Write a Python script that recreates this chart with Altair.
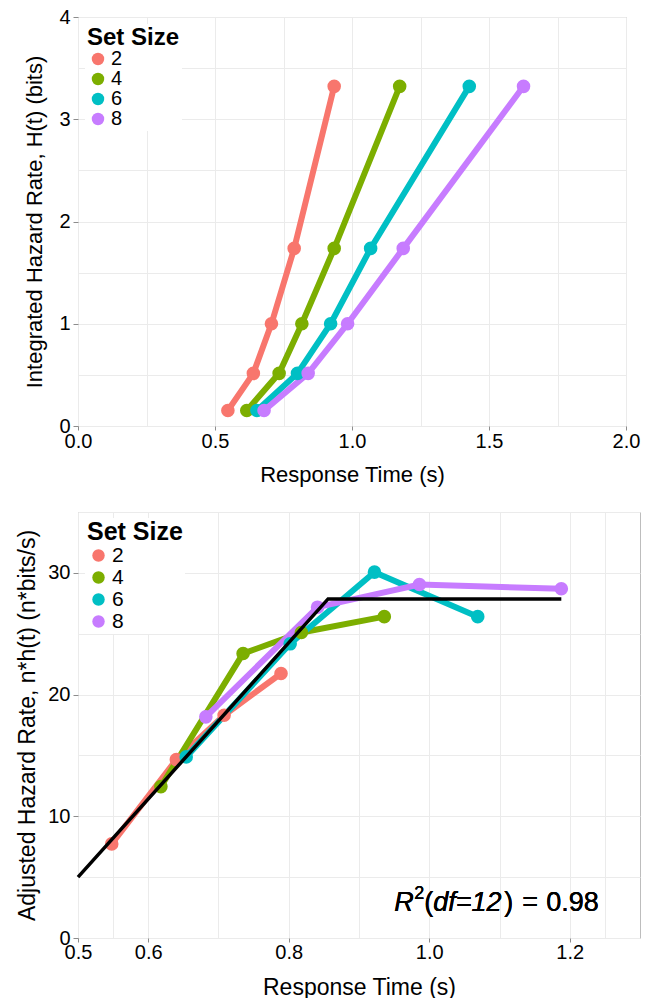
import altair as alt
import pandas as pd

FONT = "Liberation Sans"

set_sizes = ["2", "4", "6", "8"]
colors = ["#F8766D", "#7CAE00", "#00BFC4", "#C77CFF"]

# ---- Top panel: integrated hazard rate (bits) at five RT quantiles ----
H_bits = [0.152, 0.515, 1.0, 1.737, 3.322]
rt_ss2 = [0.547, 0.640, 0.706, 0.789, 0.935]
rt_ss4 = [0.616, 0.734, 0.817, 0.935, 1.174]
rt_ss6 = [0.653, 0.801, 0.922, 1.068, 1.428]
rt_ss8 = [0.679, 0.840, 0.984, 1.187, 1.626]

# ---- Bottom panel: adjusted hazard rate n*h(t) ----
adj_x_ss2 = [0.548, 0.640, 0.708, 0.789]
adj_x_ss4 = [0.618, 0.735, 0.818, 0.936]
adj_x_ss6 = [0.654, 0.802, 0.922, 1.069]
adj_x_ss8 = [0.682, 0.841, 0.986, 1.188]
adj_y_ss2 = [7.73, 14.66, 18.30, 21.73]
adj_y_ss4 = [12.44, 23.37, 25.10, 26.40]
adj_y_ss6 = [14.88, 24.17, 30.06, 26.40]
adj_y_ss8 = [18.17, 27.18, 29.04, 28.69]

# piecewise-linear fit (black line)
fit_x = [0.5, 0.856, 1.188]
fit_y = [5.0, 27.86, 27.86]

# axis tick values (major = labelled, minor = grid only)
top_x_major = [0.0, 0.5, 1.0, 1.5, 2.0]
top_x_minor = [0.25, 0.75, 1.25, 1.75]
top_y_major = [0, 1, 2, 3, 4]
top_y_minor = [0.5, 1.5, 2.5, 3.5]
bot_x_major = [0.5, 0.6, 0.8, 1.0, 1.2]
bot_x_minor = [0.55, 0.7, 0.9, 1.1, 1.25]
bot_y_major = [0, 10, 20, 30]
bot_y_minor = [5, 15, 25, 35]

top_rows = []
for s, xs in zip(set_sizes, [rt_ss2, rt_ss4, rt_ss6, rt_ss8]):
    for i, (xv, yv) in enumerate(zip(xs, H_bits)):
        top_rows.append({"ss": s, "ssn": int(s), "idx": i, "rt": xv, "H": yv})
top_df = pd.DataFrame(top_rows)

bot_rows = []
for s, xs, ys in zip(set_sizes,
                     [adj_x_ss2, adj_x_ss4, adj_x_ss6, adj_x_ss8],
                     [adj_y_ss2, adj_y_ss4, adj_y_ss6, adj_y_ss8]):
    for i, (xv, yv) in enumerate(zip(xs, ys)):
        bot_rows.append({"ss": s, "ssn": int(s), "idx": i, "rt": xv, "nh": yv})
bot_df = pd.DataFrame(bot_rows)

fit_df = pd.DataFrame({"rt": fit_x, "nh": fit_y, "idx": list(range(len(fit_x)))})


def make_axis(title, major, minor, fmt, label_size, title_size, title_pad, tick=5, lpad=3):
    vals = sorted(major + minor)
    major_str = "[" + ",".join(repr(float(v)) for v in major) + "]"
    test = f"indexof({major_str}, datum.value) >= 0"
    return alt.Axis(
        title=title,
        values=vals,
        labelExpr=f"{test} ? format(datum.value, '{fmt}') : ''",
        tickOpacity=alt.condition(test, alt.value(1), alt.value(0)),
        grid=True,
        gridColor="#ebebeb",
        gridWidth=1,
        domain=False,
        ticks=True,
        tickSize=tick,
        tickColor="#8c8c8c",
        labelPadding=lpad,
        labelFontSize=label_size,
        titleFontSize=title_size,
        titlePadding=title_pad,
        labelFlush=False,
        labelOverlap=False,
        labelColor="black",
        titleColor="black",
        titleFontWeight="normal",
        labelFont=FONT,
        titleFont=FONT,
    )


def make_legend(title_size, label_size, lx, ly, tpad):
    return alt.Legend(
        title="Set Size", orient="none", legendX=lx, legendY=ly,
        titleFontSize=title_size, titleFontWeight="bold", titleColor="black", titleFont=FONT,
        labelFont=FONT, labelFontSize=label_size, labelColor="black",
        symbolType="circle", symbolSize=155, symbolStrokeWidth=0, symbolOpacity=1,
        rowPadding=0, titlePadding=tpad, symbolOffset=1, labelOffset=3,
        fillColor="white", padding=2,
    )


def series_layers(df, xenc, yenc, legend):
    # lines: stroke keyed on the numeric set size (separate scale, no legend)
    lines = alt.Chart(df).mark_line(strokeWidth=6).encode(
        x=xenc, y=yenc, order="idx:Q",
        stroke=alt.Stroke("ssn:O", scale=alt.Scale(domain=[int(s) for s in set_sizes], range=colors),
                          legend=None),
    )
    points = alt.Chart(df).mark_circle(size=185, opacity=1).encode(
        x=xenc, y=yenc,
        color=alt.Color("ss:N", scale=alt.Scale(domain=set_sizes, range=colors), legend=legend),
    )
    return lines, points


# ---------------- Top chart ----------------
tx = alt.X("rt:Q", scale=alt.Scale(domain=[0, 2], nice=False, zero=False),
           axis=make_axis("Response Time (s)", top_x_major, top_x_minor, ".1f", 20, 22, 13, tick=4, lpad=1))
ty = alt.Y("H:Q", scale=alt.Scale(domain=[0, 4], nice=False),
           axis=make_axis("Integrated Hazard Rate, H(t) (bits)", top_y_major, top_y_minor, "d", 20, 22, 12))

top_lines, top_points = series_layers(top_df, tx, ty, make_legend(24, 20, 7, 7, -1))
top = alt.layer(top_lines, top_points).properties(width=548, height=409)

# ---------------- Bottom chart ----------------
bx = alt.X("rt:Q", scale=alt.Scale(domain=[0.5, 1.3], nice=False, zero=False),
           axis=make_axis("Response Time (s)", bot_x_major, bot_x_minor, ".1f", 20, 23, 14, tick=4, lpad=0))
by = alt.Y("nh:Q", scale=alt.Scale(domain=[0, 35], nice=False),
           axis=make_axis("Adjusted Hazard Rate, n*h(t) (n*bits/s)", bot_y_major, bot_y_minor, "d", 20, 23, 8))

bot_lines, bot_points = series_layers(bot_df, bx, by, make_legend(25, 21, 7, 6, 0))
fit_line = alt.Chart(fit_df).mark_line(color="black", strokeWidth=3.5).encode(
    x=bx, y=by, order="idx:Q"
)

# R^2 annotation built from pieces (mixed italic / superscript)
ann_x, ann_y = 0.95, 2.2
ann_pieces = [
    ("R", 0, 0, 27, "italic"),
    ("2", 20, -12, 18, "normal"),
    ("(", 30, 0, 27, "normal"),
    ("df=12", 39, 0, 27, "italic"),
    (")", 110, 0, 27, "normal"),
    ("=", 128, 0, 27, "normal"),
    ("0.98", 152, 0, 27, "normal"),
]
ann_layers = []
for txt, dx, dy, fs, style in ann_pieces:
    ann_layers.append(
        alt.Chart(fit_df).mark_text(
            text=txt, dx=dx, dy=dy, fontSize=fs, fontStyle=style, font=FONT,
            align="left", baseline="alphabetic", color="black",
        ).encode(x=alt.datum(ann_x), y=alt.datum(ann_y))
    )

bottom = alt.layer(bot_lines, bot_points, fit_line, *ann_layers).properties(width=562, height=426)

chart = (
    alt.vconcat(top, bottom, spacing=15)
    .resolve_scale(color="independent", stroke="independent")
    .resolve_legend(color="independent", stroke="independent")
    .properties(padding={"left": 16, "top": 6, "right": 5, "bottom": 2})
    .configure(font=FONT)
    .configure_view(stroke="#bdbdbd", strokeWidth=1)
)

chart.save("out.html", embed_options={"renderer": "svg", "actions": False})
